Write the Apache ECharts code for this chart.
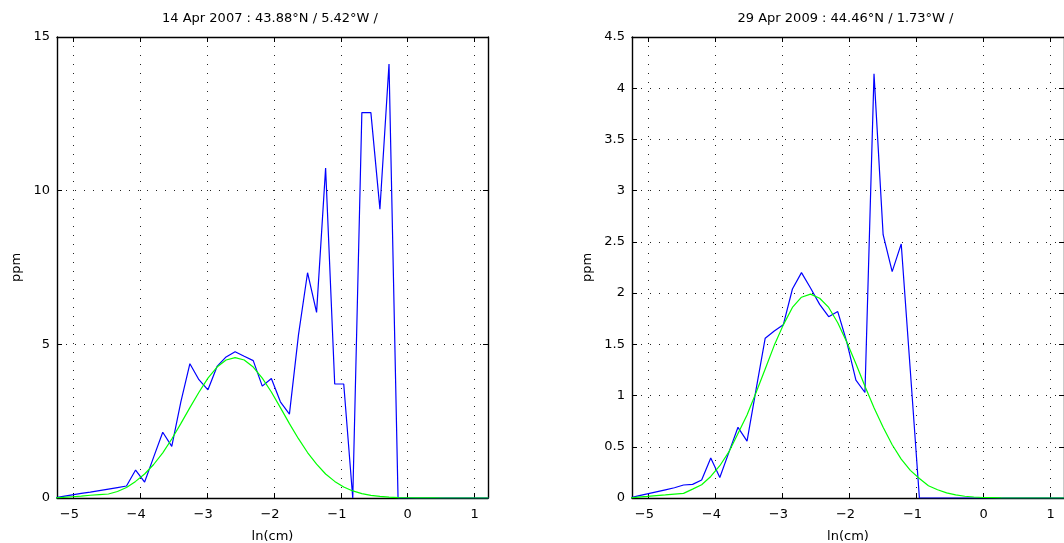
<!DOCTYPE html>
<html><head><meta charset="utf-8">
<script src="https://cdn.jsdelivr.net/npm/echarts@6/dist/echarts.min.js"></script>
<style>html,body{margin:0;padding:0;background:#fff}#c{width:1064px;height:543px}</style>
</head><body><div id="c"></div>
<script>
// size classes, ln(cm)
const lnCm = [-5.287, -5.152, -5.016, -4.881, -4.746, -4.611, -4.475, -4.340, -4.205, -4.069,
  -3.934, -3.799, -3.663, -3.528, -3.393, -3.257, -3.122, -2.987, -2.851, -2.716,
  -2.581, -2.445, -2.310, -2.175, -2.039, -1.904, -1.769, -1.634, -1.498, -1.363,
  -1.228, -1.092, -0.957, -0.822, -0.686, -0.551, -0.416, -0.280, -0.145, -0.010,
  0.126, 0.261, 0.396, 0.532, 0.667, 0.802, 0.938, 1.073, 1.208];
// 14 Apr 2007 : measured (blue) and fitted (green), ppm
const ppm2007 = [0, 0.05, 0.10, 0.15, 0.19, 0.24, 0.29, 0.34, 0.39, 0.91,
  0.52, 1.33, 2.14, 1.68, 3.12, 4.37, 3.85, 3.52, 4.28, 4.59,
  4.76, 4.61, 4.47, 3.64, 3.89, 3.13, 2.73, 5.30, 7.33, 6.04,
  10.74, 3.71, 3.71, 0, 12.54, 12.54, 9.40, 14.12, 0, 0,
  0, 0, 0, 0, 0, 0, 0, 0, 0];
const fit2007 = [0, 0.02, 0.04, 0.06, 0.09, 0.11, 0.13, 0.21, 0.34, 0.54,
  0.78, 1.09, 1.47, 1.92, 2.42, 2.94, 3.44, 3.90, 4.26, 4.49,
  4.57, 4.49, 4.26, 3.90, 3.45, 2.94, 2.42, 1.93, 1.48, 1.10,
  0.78, 0.54, 0.36, 0.23, 0.14, 0.086, 0.05, 0.028, 0.015, 0.008,
  0.004, 0.002, 0.001, 0, 0, 0, 0, 0, 0];
// 29 Apr 2009
const ppm2009 = [0, 0.02, 0.04, 0.06, 0.08, 0.10, 0.127, 0.133, 0.175, 0.39,
  0.20, 0.445, 0.69, 0.555, 1.06, 1.56, 1.63, 1.69, 2.04, 2.20,
  2.05, 1.89, 1.77, 1.82, 1.52, 1.15, 1.03, 4.14, 2.57, 2.21,
  2.48, 1.24, 0, 0, 0, 0, 0, 0, 0, 0,
  0, 0, 0, 0, 0, 0, 0, 0, 0];
const fit2009 = [0, 0.008, 0.015, 0.023, 0.03, 0.038, 0.045, 0.087, 0.13, 0.21,
  0.315, 0.45, 0.63, 0.81, 1.03, 1.26, 1.49, 1.69, 1.86, 1.96,
  1.99, 1.95, 1.86, 1.71, 1.52, 1.31, 1.09, 0.88, 0.69, 0.52,
  0.38, 0.27, 0.19, 0.12, 0.08, 0.05, 0.03, 0.017, 0.01, 0.005,
  0.003, 0.001, 0, 0, 0, 0, 0, 0, 0];
const xTicks = [-5, -4, -3, -2, -1, 0, 1];
const titles = ['14 Apr 2007 : 43.88°N / 5.42°W /', '29 Apr 2009 : 44.46°N / 1.73°W /'];
const xName = 'ln(cm)';
const yName = 'ppm';

const FONT = 'DejaVu Sans';
const FS = 13;
const grids = [
  {left: 57, top: 37, width: 431, height: 461, outerBoundsMode: 'none', containLabel: false},
  {left: 632, top: 37, width: 432, height: 461, outerBoundsMode: 'none', containLabel: false}
];
const yCfg = [{max: 15, interval: 5, gap: 34}, {max: 4.5, interval: 0.5, gap: 38}];
const xMin = -5.244, xMax = 1.2;

const tickStyle = {show: true, inside: true, length: 5, lineStyle: {color: '#000', width: 1}};
const axisLine = {show: true, onZero: false, lineStyle: {color: '#000', width: 1.4}};
const split = {show: true, lineStyle: {color: '#222', width: 1, type: [1, 8]}};
const minus = v => String(v).replace('-', '\u2212');

const xAxis = [], yAxis = [], series = [], title = [];
[0, 1].forEach(g => {
  xAxis.push({
    type: 'value', gridIndex: g, min: xMin, max: xMax, position: 'bottom',
    axisLine, axisTick: Object.assign({}, tickStyle, {customValues: xTicks}),
    splitLine: split,
    axisLabel: {customValues: xTicks, color: '#000', fontFamily: FONT, fontSize: FS, margin: 10,
      formatter: v => v < 0 ? '{n|' + minus(v) + '}' : String(v),
      rich: {n: {fontFamily: FONT, fontSize: FS, color: '#000', padding: [0, 8, 0, 0]}}},
    name: xName, nameLocation: 'middle', nameGap: 32,
    nameTextStyle: {color: '#000', fontFamily: FONT, fontSize: FS}
  });
  xAxis.push({
    type: 'value', gridIndex: g, min: xMin, max: xMax, position: 'top',
    axisLine, axisTick: Object.assign({}, tickStyle, {customValues: xTicks}),
    splitLine: {show: false}, axisLabel: {show: false}
  });
  yAxis.push({
    type: 'value', gridIndex: g, min: 0, max: yCfg[g].max, interval: yCfg[g].interval, position: 'left',
    axisLine, axisTick: tickStyle, splitLine: split,
    axisLabel: {color: '#000', fontFamily: FONT, fontSize: FS, margin: 7},
    name: yName, nameLocation: 'middle', nameGap: yCfg[g].gap,
    nameTextStyle: {color: '#000', fontFamily: FONT, fontSize: FS}
  });
  yAxis.push({
    type: 'value', gridIndex: g, min: 0, max: yCfg[g].max, interval: yCfg[g].interval, position: 'right',
    axisLine, axisTick: tickStyle, splitLine: {show: false}, axisLabel: {show: false}
  });
  title.push({
    text: titles[g], left: g === 0 ? 270 : 845.5, top: 12, textAlign: 'center', padding: 0,
    textStyle: {color: '#000', fontFamily: FONT, fontSize: FS, fontWeight: 'normal'}
  });
});
const pairs = arr => lnCm.map((x, i) => [x, arr[i]]);
[[ppm2007, fit2007], [ppm2009, fit2009]].forEach(([obs, fit], g) => {
  series.push({type: 'line', xAxisIndex: 2 * g, yAxisIndex: 2 * g, data: pairs(obs),
    showSymbol: false, symbol: 'none', lineStyle: {color: '#0000ff', width: 1.2}, z: 3});
  series.push({type: 'line', xAxisIndex: 2 * g, yAxisIndex: 2 * g, data: pairs(fit),
    showSymbol: false, symbol: 'none', lineStyle: {color: '#00ff00', width: 1.2}, z: 4});
});

const chart = echarts.init(document.getElementById('c'), null, {renderer: 'canvas'});
chart.setOption({
  animation: false, backgroundColor: '#fff',
  title, grid: grids, xAxis, yAxis, series
});
</script></body></html>
